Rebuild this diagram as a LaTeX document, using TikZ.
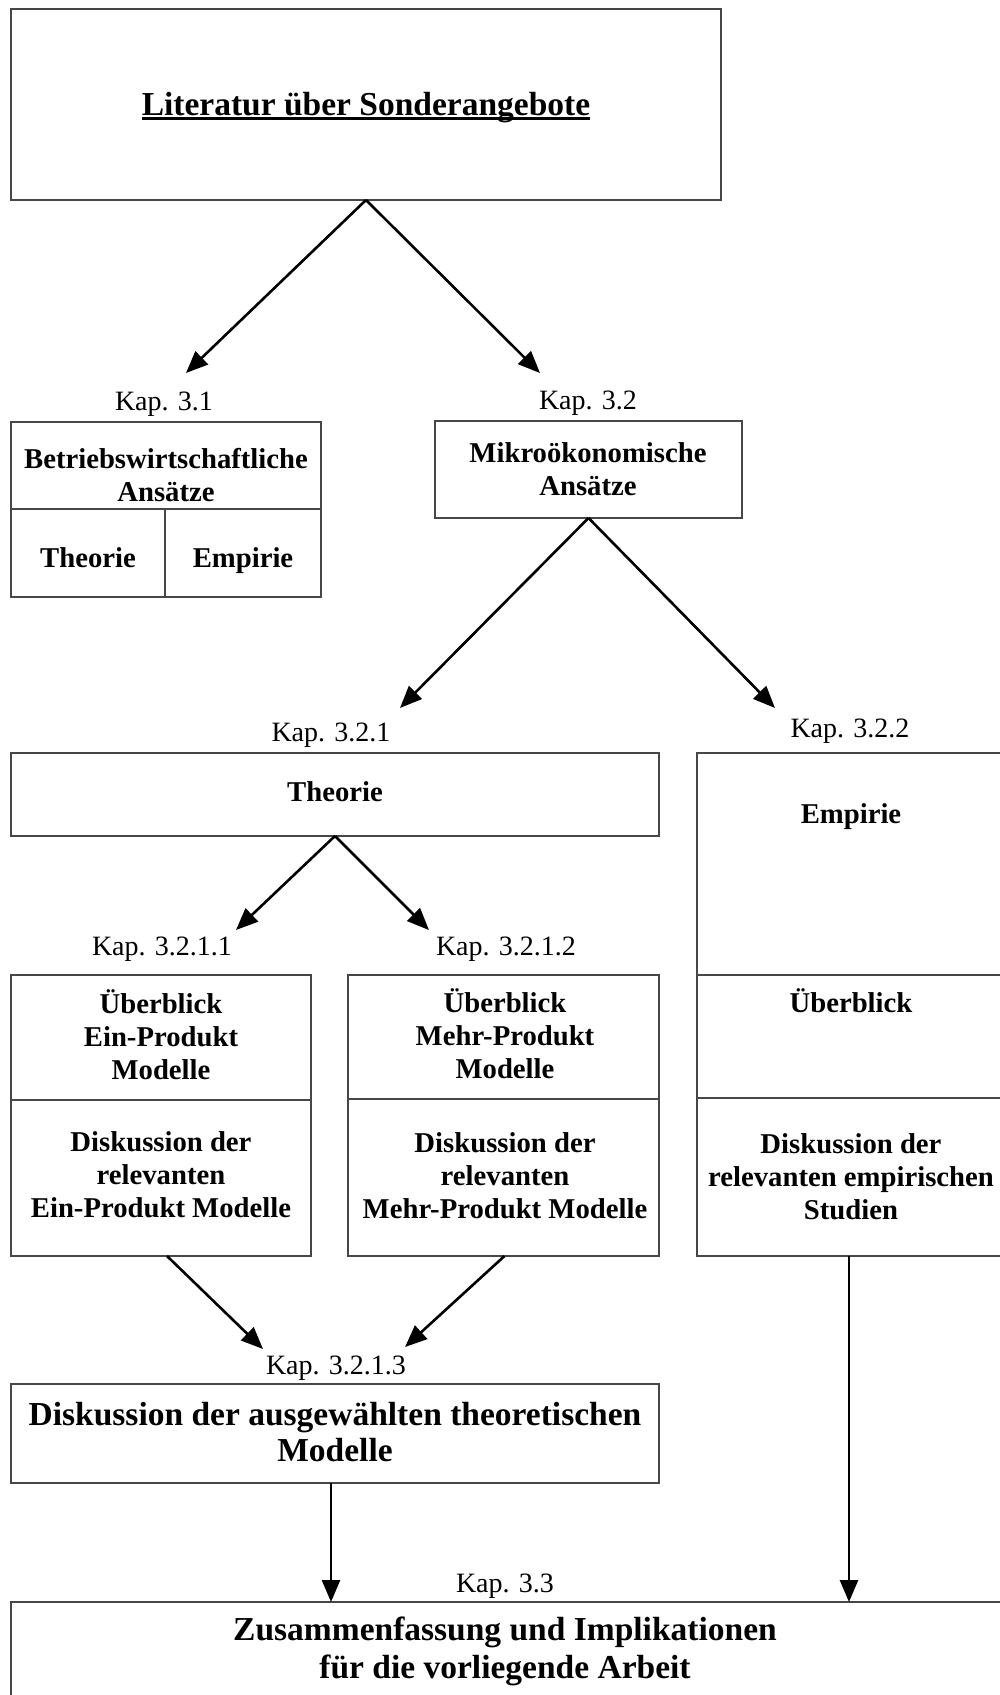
\documentclass[tikz,border=0pt]{standalone}
\usepackage{fontspec}
\setmainfont{Liberation Serif}
\usetikzlibrary{arrows.meta,fit}

% type sizes used in the chart
\newcommand\boxfont{\bfseries\fontsize{28.7pt}{33pt}\selectfont}
\newcommand\bigboxfont{\bfseries\fontsize{33.5pt}{37pt}\selectfont}
\newcommand\kapfont{\fontsize{28pt}{32pt}\selectfont}
% centred lines whose baseline is the first line
\newcommand\lines[1]{\begin{tabular}[t]{@{}c@{}}#1\end{tabular}}

\tikzset{
  frame/.style={draw=black!72, line width=1.3pt, inner sep=0pt, outer sep=0pt},
  conn/.style={-{Triangle[length=22pt,width=18pt]}, line width=2.6pt},
  kap/.style={font=\kapfont, inner sep=0pt, anchor=base},
  txt/.style={font=\boxfont, inner sep=0pt, anchor=base},
  bigtxt/.style={font=\bigboxfont, inner sep=0pt, anchor=base},
}

\begin{document}
\begin{tikzpicture}[x=1pt, y=-1pt]
\useasboundingbox[fill=white] (0,0) rectangle (1000,1695);

% ---------- boxes ----------
\node[frame, fit={(11,9) (721,200)}] (lit) {};
\node[frame, fit={(11,422) (321,509)}] (bwl) {};
\node[frame, fit={(11,509) (165,597)}] (bwlth) {};
\node[frame, fit={(165,509) (321,597)}] (bwlem) {};
\node[frame, fit={(435,421) (742,518)}] (mikro) {};
\node[frame, fit={(11,753) (659,836)}] (theo) {};
\node[frame, fit={(697,753) (1005,975)}] (emp) {};
\node[frame, fit={(697,975) (1005,1098)}] (empov) {};
\node[frame, fit={(697,1098) (1005,1256)}] (empdis) {};
\node[frame, fit={(11,975) (311,1100)}] (einov) {};
\node[frame, fit={(11,1100) (311,1256)}] (eindis) {};
\node[frame, fit={(348,975) (659,1099)}] (mehrov) {};
\node[frame, fit={(348,1099) (659,1256)}] (mehrdis) {};
\node[frame, fit={(11,1384) (659,1483)}] (auswahl) {};
\node[frame, fit={(11,1602) (1003,1720)}] (summary) {};

% ---------- texts ----------
\node[bigtxt] (littext) at (366,115) {Literatur über Sonderangebote};
\draw[line width=2.2pt] ([yshift=-3.5pt]littext.base west) -- ([yshift=-3.5pt]littext.base east);

\node[txt] (bwltext) at (166,468) {\lines{Betriebswirtschaftliche\\Ansätze}};
\node[txt] (bwlthtext) at (88,567) {Theorie};
\node[txt] (bwlemtext) at (243,567) {Empirie};
\node[txt] (mikrotext) at (588,462) {\lines{Mikroökonomische\\Ansätze}};
\node[txt] (theotext) at (335,801) {Theorie};
\node[txt] (emptext) at (851,823) {Empirie};
\node[txt] (empovtext) at (851,1012) {Überblick};
\node[txt] (empdistext) at (851,1153) {\lines{Diskussion der\\relevanten empirischen\\Studien}};
\node[txt] (einovtext) at (161,1013) {\lines{Überblick\\Ein-Produkt\\Modelle}};
\node[txt] (eindistext) at (161,1151) {\lines{Diskussion der\\relevanten\\Ein-Produkt Modelle}};
\node[txt] (mehrovtext) at (505,1012) {\lines{Überblick\\Mehr-Produkt\\Modelle}};
\node[txt] (mehrdistext) at (505,1152) {\lines{Diskussion der\\relevanten\\Mehr-Produkt Modelle}};
\node[bigtxt, font=\bfseries\fontsize{33.5pt}{36.5pt}\selectfont] (auswahltext) at (335,1425) {\lines{Diskussion der ausgewählten theoretischen\\Modelle}};
\node[bigtxt, font=\bfseries\fontsize{33.5pt}{38pt}\selectfont] (summarytext) at (505,1640) {\lines{Zusammenfassung und Implikationen\\für die vorliegende Arbeit}};

% ---------- chapter labels ----------
\node[kap] (k31) at (164,410) {Kap. 3.1};
\node[kap] (k32) at (588,409) {Kap. 3.2};
\node[kap] (k321) at (331,741) {Kap. 3.2.1};
\node[kap] (k322) at (850,737) {Kap. 3.2.2};
\node[kap] (k3211) at (162,955) {Kap. 3.2.1.1};
\node[kap] (k3212) at (506,955) {Kap. 3.2.1.2};
\node[kap] (k3213) at (336,1374) {Kap. 3.2.1.3};
\node[kap] (k33) at (505,1592) {Kap. 3.3};

% ---------- arrow tips ----------
\coordinate (tipbwl) at (186,373);
\coordinate (tipmikro) at (540,373);
\coordinate (tiptheo) at (400,708);
\coordinate (tipemp) at (775,708);
\coordinate (tipein) at (236,930);
\coordinate (tipmehr) at (429,930);
\coordinate (tipauswA) at (263,1349);
\coordinate (tipauswB) at (405,1347);

% ---------- connectors ----------
\draw[conn] (lit.south) -- (tipbwl);
\draw[conn] (lit.south) -- (tipmikro);
\draw[conn] (mikro.south) -- (tiptheo);
\draw[conn] (mikro.south) -- (tipemp);
\draw[conn] (theo.south) -- (tipein);
\draw[conn] (theo.south) -- (tipmehr);
\draw[conn] ([xshift=6pt]eindis.south) -- (tipauswA);
\draw[conn] ([xshift=1pt]mehrdis.south) -- (tipauswB);
\draw[conn] ([xshift=-4pt]auswahl.south) -- ([xshift=-4pt]auswahl.south |- summary.north);
\draw[conn] ([xshift=-2pt]empdis.south) -- ([xshift=-2pt]empdis.south |- summary.north);
\end{tikzpicture}
\end{document}
